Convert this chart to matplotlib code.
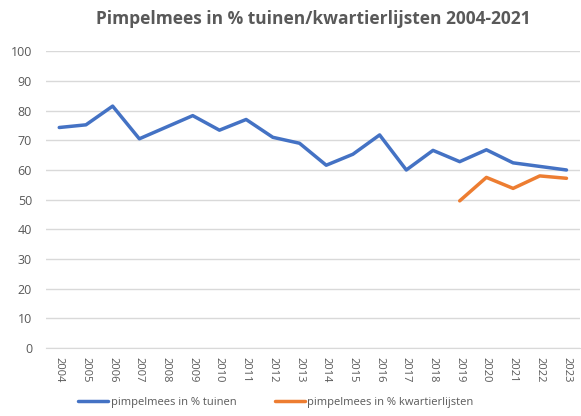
import matplotlib.pyplot as plt

years = [str(y) for y in range(2004, 2024)]
tuinen = [74.3, 75.2, 81.5, 70.5, 74.4, 78.3, 73.4, 77.0, 71.0, 69.0,
          61.6, 65.3, 71.8, 60.0, 66.6, 62.8, 66.8, 62.4, 61.2, 60.0]
kwartier_years = ['2019', '2020', '2021', '2022', '2023']
kwartier = [49.6, 57.5, 53.8, 58.0, 57.2]

grey = '#595959'
plt.rcParams['font.family'] = ['Open Sans', 'DejaVu Sans']

fig = plt.figure(figsize=(5.81, 4.16), dpi=100)
ax = fig.add_axes([0.079, 0.163, 0.919, 0.714])

x = list(range(len(years)))
kx = [years.index(y) for y in kwartier_years]
ax.plot(x, tuinen, color='#4472C4', lw=2.5, label='pimpelmees in % tuinen',
        solid_capstyle='round')
ax.plot(kx, kwartier, color='#ED7D31', lw=2.5, label='pimpelmees in % kwartierlijsten',
        solid_capstyle='round')

ax.set_xlim(-0.5, len(years) - 0.5)
ax.set_ylim(0, 100)
ax.set_yticks(range(0, 101, 10))
ax.set_xticks(x)
ax.set_xticklabels(years, rotation=-90)
ax.tick_params(axis='both', length=0, colors=grey)
ax.tick_params(axis='y', pad=10, labelsize=9)
ax.tick_params(axis='x', pad=6, labelsize=8)
ax.grid(axis='y', color='#D9D9D9', lw=1)
ax.set_axisbelow(True)
for s in ['top', 'right', 'left']:
    ax.spines[s].set_visible(False)
ax.spines['bottom'].set_color('#D9D9D9')

fig.suptitle('Pimpelmees in % tuinen/kwartierlijsten 2004-2021', x=0.54, y=0.975,
             fontsize=12.5, fontweight='bold', color=grey)
fig.legend(loc='lower center', bbox_to_anchor=(0.475, -0.005), ncol=2, frameon=False,
           fontsize=8, labelcolor=grey, handlelength=2.7, columnspacing=3.5,
           handletextpad=0.2)

fig.savefig('out.png', dpi=100)
